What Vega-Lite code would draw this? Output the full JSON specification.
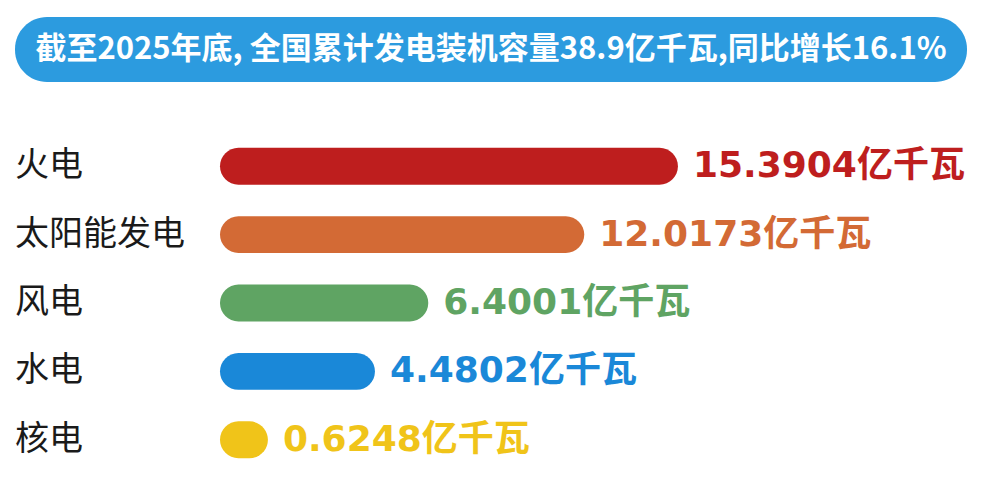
{
  "$schema": "https://vega.github.io/schema/vega-lite/v6.json",
  "padding": {"left": 15, "top": 17, "right": 0, "bottom": 0},
  "background": "white",
  "config": {"view": {"stroke": null}},
  "spacing": 50,
  "vconcat": [
    {
      "width": 952,
      "height": 65,
      "data": {"values": [{"title": "截至2025年底, 全国累计发电装机容量38.9亿千瓦,同比增长16.1%"}]},
      "layer": [
        {
          "mark": {"type": "rect", "cornerRadius": 32, "color": "#2C9BDF"},
          "encoding": {
            "x": {"datum": 0, "type": "quantitative", "scale": {"domain": [0, 1], "nice": false}, "axis": null},
            "x2": {"datum": 1},
            "y": {"datum": 0, "type": "quantitative", "scale": {"domain": [0, 1], "nice": false}, "axis": null},
            "y2": {"datum": 1}
          }
        },
        {
          "mark": {"type": "text", "font": "Noto Sans CJK SC", "fontSize": 31, "fontWeight": "bold", "color": "white", "align": "center", "baseline": "middle"},
          "encoding": {
            "x": {"datum": 0.5, "type": "quantitative"},
            "y": {"datum": 0.5, "type": "quantitative"},
            "text": {"field": "title"}
          }
        }
      ]
    },
    {
      "width": 952,
      "height": 342,
      "data": {
        "values": [
          {"type": "火电", "capacity": 15.3904, "label": "15.3904亿千瓦"},
          {"type": "太阳能发电", "capacity": 12.0173, "label": "12.0173亿千瓦"},
          {"type": "风电", "capacity": 6.4001, "label": "6.4001亿千瓦"},
          {"type": "水电", "capacity": 4.4802, "label": "4.4802亿千瓦"},
          {"type": "核电", "capacity": 0.6248, "label": "0.6248亿千瓦"}
        ]
      },
      "encoding": {
        "y": {"field": "type", "type": "nominal", "sort": null, "scale": {"paddingInner": 0.46, "paddingOuter": 0.23}, "axis": null}
      },
      "layer": [
        {
          "mark": {"type": "bar", "cornerRadius": 18.5},
          "encoding": {
            "x": {"field": "capacity", "type": "quantitative", "scale": {"domain": [-8.482, 25.8], "nice": false, "zero": false}, "axis": null},
            "x2": {"datum": -1.1},
            "color": {
              "field": "type", "type": "nominal",
              "scale": {"domain": ["火电", "太阳能发电", "风电", "水电", "核电"], "range": ["#BE1E1E", "#D36A35", "#5FA463", "#1A88D8", "#F0C419"]},
              "legend": null
            }
          }
        },
        {
          "mark": {"type": "text", "align": "left", "baseline": "middle", "font": "Noto Sans CJK SC", "fontSize": 34, "color": "#1a1a1a"},
          "encoding": {
            "x": {"datum": -8.482, "type": "quantitative"},
            "text": {"field": "type"}
          }
        },
        {
          "mark": {"type": "text", "align": "left", "baseline": "middle", "dx": 15, "font": "DejaVu Sans, Noto Sans CJK SC", "fontSize": 36, "fontWeight": "bold"},
          "encoding": {
            "x": {"field": "capacity", "type": "quantitative"},
            "text": {"field": "label"},
            "color": {"field": "type", "type": "nominal", "legend": null}
          }
        }
      ]
    }
  ]
}
